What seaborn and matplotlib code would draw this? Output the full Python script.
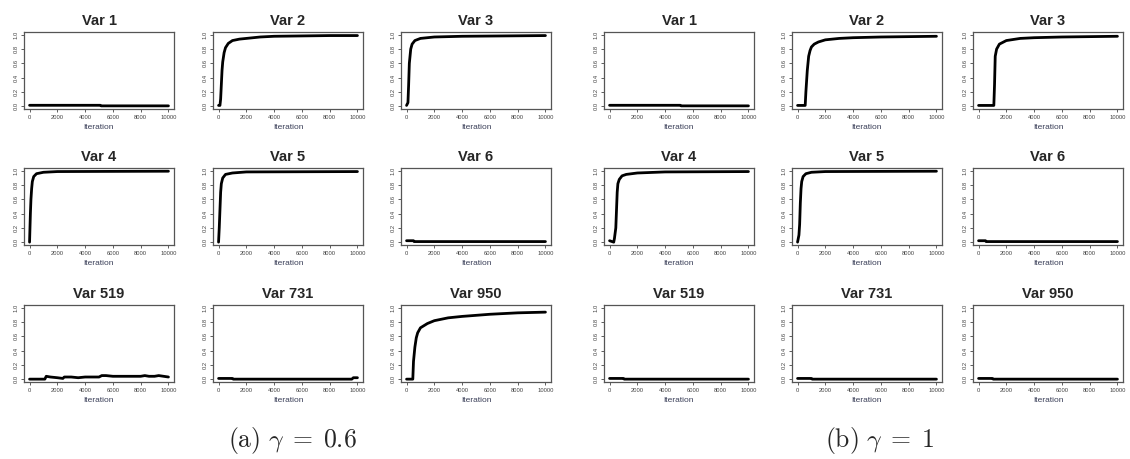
import pandas as pd
import matplotlib
matplotlib.use('Agg')
import matplotlib.pyplot as plt
import seaborn as sns

# ---- data (iteration, running inclusion prob) ----
titles = ['Var 1', 'Var 2', 'Var 3', 'Var 4', 'Var 5', 'Var 6',
          'Var 519', 'Var 731', 'Var 950']

# (a) gamma = 0.6
a_var1_x = [0, 5100, 5150, 10000]
a_var1_y = [0.012, 0.012, 0.004, 0.004]
a_var2_x = [0, 100, 150, 200, 250, 300, 400, 500, 700, 1000, 1500, 2000, 3000, 4000, 6000, 8000, 10000]
a_var2_y = [0.01, 0.01, 0.1, 0.3, 0.5, 0.62, 0.75, 0.82, 0.88, 0.92, 0.94, 0.95, 0.97, 0.98, 0.985, 0.99, 0.99]
a_var3_x = [0, 100, 150, 200, 300, 400, 600, 1000, 2000, 4000, 10000]
a_var3_y = [0.01, 0.05, 0.3, 0.6, 0.8, 0.87, 0.92, 0.95, 0.97, 0.98, 0.99]
a_var4_x = [0, 30, 60, 100, 150, 200, 300, 500, 1000, 2000, 10000]
a_var4_y = [0.0, 0.2, 0.4, 0.6, 0.75, 0.85, 0.92, 0.96, 0.98, 0.99, 0.995]
a_var5_x = [0, 50, 100, 150, 200, 300, 500, 1000, 2000, 10000]
a_var5_y = [0.0, 0.2, 0.45, 0.7, 0.82, 0.9, 0.95, 0.97, 0.985, 0.99]
a_var6_x = [0, 500, 550, 10000]
a_var6_y = [0.02, 0.02, 0.008, 0.008]
a_var519_x = [0, 1100, 1200, 1500, 2000, 2400, 2500, 3000, 3500, 4000, 4500, 5000, 5200, 5500,
              6000, 6200, 7000, 8000, 8300, 8600, 9000, 9300, 10000]
a_var519_y = [0.0, 0.0, 0.04, 0.03, 0.02, 0.01, 0.03, 0.03, 0.02, 0.03, 0.03, 0.03, 0.05, 0.05,
              0.04, 0.04, 0.04, 0.04, 0.05, 0.04, 0.04, 0.05, 0.03]
a_var731_x = [0, 1000, 1050, 9600, 9700, 10000]
a_var731_y = [0.01, 0.01, 0.0, 0.0, 0.02, 0.02]
a_var950_x = [0, 450, 500, 600, 700, 800, 1000, 1500, 2000, 3000, 4000, 6000, 8000, 10000]
a_var950_y = [0.0, 0.0, 0.25, 0.45, 0.58, 0.65, 0.72, 0.78, 0.82, 0.86, 0.88, 0.91, 0.93, 0.94]

# (b) gamma = 1
b_var1_x = [0, 5100, 5150, 10000]
b_var1_y = [0.012, 0.012, 0.004, 0.004]
b_var2_x = [0, 550, 600, 700, 800, 900, 1000, 1200, 1500, 2000, 3000, 4000, 6000, 10000]
b_var2_y = [0.01, 0.01, 0.2, 0.5, 0.7, 0.78, 0.83, 0.87, 0.9, 0.93, 0.95, 0.96, 0.97, 0.98]
b_var3_x = [0, 1100, 1150, 1200, 1300, 1500, 1800, 2000, 3000, 4000, 6000, 10000]
b_var3_y = [0.01, 0.01, 0.3, 0.7, 0.8, 0.87, 0.9, 0.92, 0.95, 0.96, 0.97, 0.98]
b_var4_x = [0, 300, 350, 450, 500, 550, 600, 700, 900, 1200, 2000, 4000, 10000]
b_var4_y = [0.02, 0.0, 0.05, 0.2, 0.45, 0.7, 0.82, 0.88, 0.93, 0.95, 0.97, 0.985, 0.99]
b_var5_x = [0, 100, 150, 200, 250, 300, 400, 600, 1000, 2000, 10000]
b_var5_y = [0.0, 0.1, 0.25, 0.55, 0.75, 0.85, 0.92, 0.96, 0.98, 0.99, 0.995]
b_var6_x = [0, 500, 550, 10000]
b_var6_y = [0.02, 0.02, 0.008, 0.008]
b_var519_x = [0, 1000, 1050, 10000]
b_var519_y = [0.01, 0.01, 0.0, 0.0]
b_var731_x = [0, 1000, 1050, 10000]
b_var731_y = [0.01, 0.01, 0.0, 0.0]
b_var950_x = [0, 1000, 1050, 10000]
b_var950_y = [0.01, 0.01, 0.0, 0.0]

group_a = [(a_var1_x, a_var1_y), (a_var2_x, a_var2_y), (a_var3_x, a_var3_y),
           (a_var4_x, a_var4_y), (a_var5_x, a_var5_y), (a_var6_x, a_var6_y),
           (a_var519_x, a_var519_y), (a_var731_x, a_var731_y), (a_var950_x, a_var950_y)]
group_b = [(b_var1_x, b_var1_y), (b_var2_x, b_var2_y), (b_var3_x, b_var3_y),
           (b_var4_x, b_var4_y), (b_var5_x, b_var5_y), (b_var6_x, b_var6_y),
           (b_var519_x, b_var519_y), (b_var731_x, b_var731_y), (b_var950_x, b_var950_y)]

x_ticks = [0, 2000, 4000, 6000, 8000, 10000]
y_ticks = [0.0, 0.2, 0.4, 0.6, 0.8, 1.0]

sns.set_style('white')
plt.rcParams['font.family'] = ['Liberation Sans', 'DejaVu Sans']
plt.rcParams['mathtext.fontset'] = 'cm'

W, H = 1130, 459
fig = plt.figure(figsize=(W / 100, H / 100), dpi=100)

# panel placement in pixels
col_left = {'a': [24, 213, 401], 'b': [604, 792, 973]}
row_top = [32, 168, 305]
pw, ph = 150, 77


def draw_panel(ax, x, y, title):
    df = pd.DataFrame({'Iteration': x, 'value': y})
    sns.lineplot(data=df, x='Iteration', y='value', ax=ax, color='black',
                 linewidth=2.0, estimator=None)
    ax.set_xlim(-400, 10400)
    ax.set_ylim(-0.04, 1.04)
    ax.set_xticks(x_ticks)
    ax.set_xticklabels([str(t) for t in x_ticks])
    ax.set_yticks(y_ticks)
    ax.set_yticklabels(['%.1f' % t for t in y_ticks], rotation=90, va='center')
    ax.tick_params(axis='both', labelsize=4.2, colors='#444444', length=2.5,
                   width=0.6, pad=1.5, left=True, bottom=True)
    for s in ax.spines.values():
        s.set_color('#555555')
        s.set_linewidth(0.9)
    ax.set_ylabel('')
    ax.set_xlabel('Iteration', fontsize=6, color='#3a3f58', labelpad=3)
    ax.set_title(title, fontsize=10.5, fontweight='bold', pad=5)


for key, group in (('a', group_a), ('b', group_b)):
    for i, (x, y) in enumerate(group):
        r, c = divmod(i, 3)
        left = col_left[key][c] / W
        bottom = 1 - (row_top[r] + ph) / H
        ax = fig.add_axes([left, bottom, pw / W, ph / H])
        draw_panel(ax, x, y, titles[i])

fig.text(292 / W, 1 - 440 / H, r'$\mathrm{(a)}\ \gamma\;=\;0.6$', ha='center', va='center',
         fontsize=18.5)
fig.text(880 / W, 1 - 440 / H, r'$\mathrm{(b)}\ \gamma\;=\;1$', ha='center', va='center',
         fontsize=18.5)

fig.savefig('out.png', dpi=100)
